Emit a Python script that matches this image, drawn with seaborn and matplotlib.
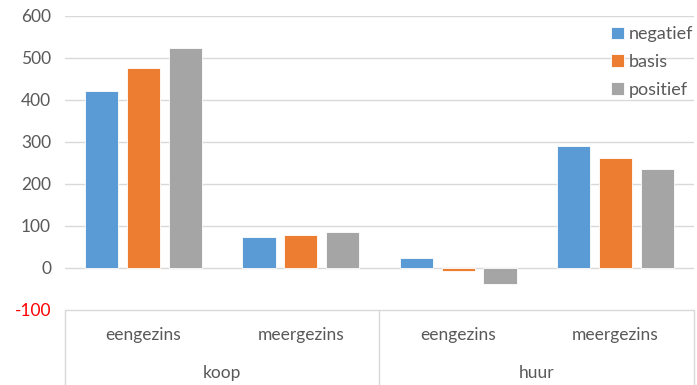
import matplotlib
matplotlib.use("Agg")
import matplotlib.pyplot as plt
import seaborn as sns
import pandas as pd
from matplotlib.lines import Line2D

# data
groups = ["koop", "koop", "huur", "huur"]
types = ["eengezins", "meergezins", "eengezins", "meergezins"]
scenarios = ["negatief", "basis", "positief"]
negatief = [421, 73, 23, 289]
basis = [475, 78, -8, 261]
positief = [523, 84, -38, 236]
colors = ["#5B9BD5", "#ED7D31", "#A5A5A5"]

rows = []
for i in range(len(types)):
    key = f"{groups[i]}|{types[i]}"
    for s, vals in zip(scenarios, [negatief, basis, positief]):
        rows.append({"cat": key, "scenario": s, "value": vals[i]})
df = pd.DataFrame(rows)

sns.set_style("white")
plt.rcParams["font.family"] = ["Lato", "DejaVu Sans"]
txt = "#595959"
grid = "#D9D9D9"

fig = plt.figure(figsize=(6.97, 3.85), dpi=100)
W, H = 697, 385
ax = fig.add_axes([65 / W, 1 - 309.5 / H, (694 - 65) / W, (309.5 - 16) / H])

sns.barplot(data=df, x="cat", y="value", hue="scenario", hue_order=scenarios,
            palette=colors, width=0.8, gap=0.21, ax=ax, saturation=1,
            edgecolor="white", linewidth=0.6)

ax.set_ylim(-100, 600)
ax.set_xlim(-0.5, 3.5)
ax.set_yticks(range(-100, 601, 100))
for y in range(0, 601, 100):
    ax.axhline(y, color=grid, lw=1, zorder=0)
for sp in ax.spines.values():
    sp.set_visible(False)
ax.set_xticks([])
ax.set_xlabel("")
ax.set_ylabel("")
ax.tick_params(axis="y", length=0, pad=10, labelsize=12.5, labelcolor=txt)
ax.set_yticklabels([str(v) for v in range(-100, 601, 100)])
ax.get_yticklabels()[0].set_color("red")

# multi-level category axis box
def fx(px):
    return px / W
def fy(py):
    return 1 - py / H
fig.add_artist(Line2D([fx(65), fx(694)], [fy(309.5), fy(309.5)], color=grid, lw=1))
for xv in [65, 379, 694]:
    fig.add_artist(Line2D([fx(xv), fx(xv)], [fy(309.5), 0], color=grid, lw=1))

for i, t in enumerate(types):
    ax.text(i, -0.087, t, transform=ax.get_xaxis_transform(), ha="center",
            va="center", fontsize=12.5, color=txt)
for j, g in enumerate(["koop", "huur"]):
    ax.text(2 * j + 0.5, -0.216, g, transform=ax.get_xaxis_transform(),
            ha="center", va="center", fontsize=12.5, color=txt)

leg = ax.legend(loc="upper right", bbox_to_anchor=(1.025, 1.02), frameon=False,
                fontsize=13, handlelength=0.7, handleheight=0.7,
                handletextpad=0.3, labelspacing=0.65)
for t in leg.get_texts():
    t.set_color(txt)

fig.savefig("out.png", dpi=100)
